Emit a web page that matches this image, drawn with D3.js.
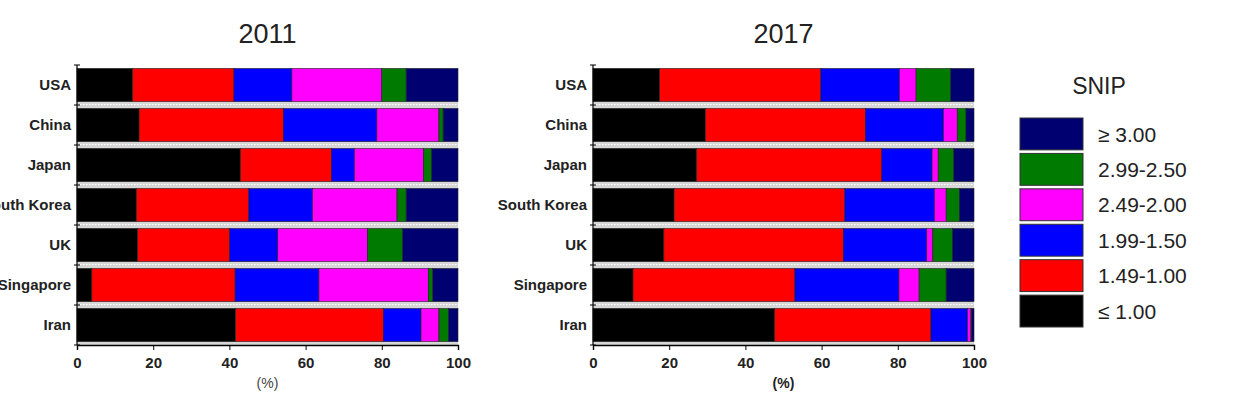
<!DOCTYPE html>
<html><head><meta charset="utf-8">
<script src="https://cdn.jsdelivr.net/npm/d3@7"></script>
<style>
body{margin:0;background:#fff;}
svg{display:block;font-family:"Liberation Sans",Arial,sans-serif;}
</style></head>
<body><svg id="c" width="1249" height="400"></svg>
<script>
const countries = ["USA","China","Japan","South Korea","UK","Singapore","Iran"];
const seriesKeys = ["le100","r149","r199","r249","r299","ge300"];
const seriesLabels = ["≤ 1.00","1.49-1.00","1.99-1.50","2.49-2.00","2.99-2.50","≥ 3.00"];
const colors = ["#000000","#ff0000","#0000ff","#ff00ff","#007a00","#000070"];
const xTicks = [0,20,40,60,80,100];

// values per country: [≤1.00, 1.49-1.00, 1.99-1.50, 2.49-2.00, 2.99-2.50, ≥3.00]
const data2011 = {
  "USA":        [14.6, 26.6, 15.2, 23.6, 6.4, 13.6],
  "China":      [16.3, 37.9, 24.5, 16.3, 1.1, 3.9],
  "Japan":      [42.9, 23.9, 6.0, 18.2, 2.1, 6.9],
  "South Korea":[15.6, 29.5, 16.7, 22.2, 2.4, 13.6],
  "UK":         [15.9, 24.2, 12.6, 23.6, 9.2, 14.5],
  "Singapore":  [3.9, 37.6, 22.0, 28.7, 1.2, 6.6],
  "Iran":       [41.6, 38.8, 9.9, 4.7, 2.5, 2.5]
};
const data2017 = {
  "USA":        [17.5, 42.3, 20.6, 4.4, 9.1, 6.1],
  "China":      [29.5, 42.0, 20.5, 3.6, 2.3, 2.1],
  "Japan":      [27.2, 48.6, 13.2, 1.6, 4.1, 5.3],
  "South Korea":[21.3, 44.8, 23.5, 3.1, 3.5, 3.8],
  "UK":         [18.6, 47.1, 21.9, 1.6, 5.2, 5.6],
  "Singapore":  [10.5, 42.5, 27.3, 5.3, 7.1, 7.3],
  "Iran":       [47.7, 41.0, 9.6, 0.9, 0.2, 0.6]
};

const svg = d3.select("#c");

function panel(x0, x1, title, dat, boldUnit){
  const g = svg.append("g");
  const x = d3.scaleLinear().domain([0,100]).range([x0,x1]);
  const y = d3.scaleBand().domain(countries).range([65,345]).paddingInner(0.17).paddingOuter(0.085);
  const rows = countries.map(c=>{const o={country:c}; seriesKeys.forEach((k,i)=>o[k]=dat[c][i]); return o;});
  const stack = d3.stack().keys(seriesKeys)(rows);

  const step = y.step();
  for(let i=1;i<=countries.length;i++){
    const yb = 65 + i*step;
    g.append("rect").attr("x",x0).attr("width",x1-x0).attr("y",yb-4).attr("height", i===countries.length?4:7).attr("fill","#d6d6d6");
    if(i<countries.length)
      g.append("line").attr("x1",x0).attr("x2",x1).attr("y1",yb-0.5).attr("y2",yb-0.5)
        .attr("stroke","#fff").attr("stroke-width",1.2).attr("stroke-dasharray","1.5,1.5");
  }

  g.selectAll("g.s").data(stack).join("g").attr("fill",(d,i)=>colors[i])
    .selectAll("rect").data(d=>d).join("rect")
    .attr("x",d=>x(d[0])).attr("width",d=>Math.max(0,x(d[1])-x(d[0])))
    .attr("y",d=>y(d.data.country)).attr("height",y.bandwidth())
    .attr("stroke","#222").attr("stroke-width",0.6);

  g.append("line").attr("x1",x0).attr("x2",x0).attr("y1",65).attr("y2",345).attr("stroke","#000").attr("stroke-width",1.2);
  for(let i=0;i<=countries.length;i++){
    const yb = 65 + i*step;
    g.append("line").attr("x1",x0-3).attr("x2",x0+3).attr("y1",yb).attr("y2",yb).attr("stroke","#000");
  }
  g.selectAll("text.yl").data(countries).join("text")
    .attr("x",x0-6).attr("y",d=>y(d)+y.bandwidth()/2).attr("dy","0.36em")
    .attr("text-anchor","end").attr("font-size",15).attr("font-weight","bold").attr("fill","#222").text(d=>d);

  const ax = g.append("g").attr("transform","translate(0,345)")
    .call(d3.axisBottom(x).tickValues(xTicks).tickSize(5).tickPadding(7));
  ax.select(".domain").attr("stroke-width",1.4);
  ax.selectAll("text").attr("font-size",15).attr("font-weight","bold").attr("fill","#222")
    .attr("font-family","'Liberation Sans',Arial,sans-serif");
  g.append("text").attr("x",(x0+x1)/2).attr("y",388).attr("text-anchor","middle")
    .attr("font-size",14).attr("font-weight",boldUnit?"bold":"normal").attr("fill",boldUnit?"#222":"#444").text("(%)");

  g.append("text").attr("x",(x0+x1)/2).attr("y",43).attr("text-anchor","middle")
    .attr("font-size",27).attr("fill","#222").text(title);
}

panel(77,458,"2011",data2011,false);
panel(593,974,"2017",data2017,true);

const lg = svg.append("g");
lg.append("text").attr("x",1099).attr("y",94).attr("text-anchor","middle").attr("font-size",23).attr("fill","#222").text("SNIP");
const order = [5,4,3,2,1,0];
const ly = d3.scaleBand().domain(order).range([118,327]).paddingInner(0.1);
lg.selectAll("rect").data(order).join("rect")
  .attr("x",1020).attr("width",63).attr("y",d=>ly(d)).attr("height",ly.bandwidth())
  .attr("fill",d=>colors[d]).attr("stroke","#333").attr("stroke-width",1);
lg.selectAll("text.l").data(order).join("text")
  .attr("x",1098).attr("y",d=>ly(d)+ly.bandwidth()/2).attr("dy","0.36em")
  .attr("font-size",21).attr("fill","#222").text(d=>seriesLabels[d]);
</script></body></html>
